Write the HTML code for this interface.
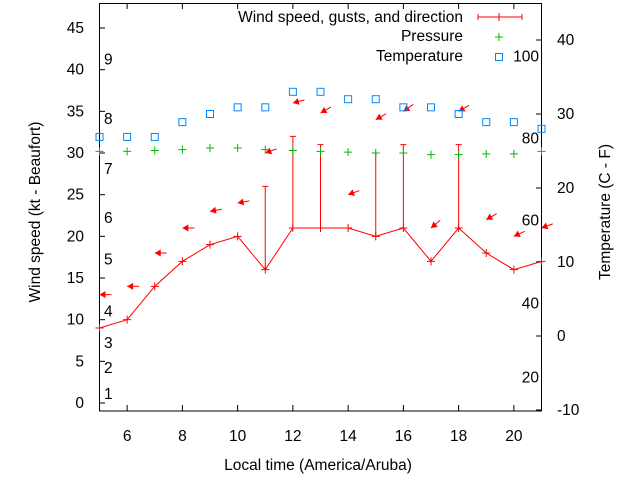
<!DOCTYPE html>
<html><head><meta charset="utf-8"><style>
body{margin:0;background:#fff}
svg{display:block;font-family:"Liberation Sans",sans-serif;font-size:15.5px}
</style></head><body>
<svg id="c" width="640" height="480">
<g id="g"></g>
</svg>
<script>
const hours=[5,6,7,8,9,10,11,12,13,14,15,16,17,18,19,20,21];
const windSpeed=[9,10,14,17,19,20,16,21,21,21,20,21,17,21,18,16,17];
const gustHours=[11,12,13,15,16,18];
const gustValues=[26,32,31,30,31,31];
const pressure=[30.2,30.2,30.3,30.4,30.6,30.6,30.4,30.3,30.2,30.1,30.0,30.0,29.8,29.8,29.9,29.9,30.2];
const temperature=[26.9,26.9,26.9,28.9,30,30.9,30.9,33,33,32,32,30.9,30.9,30,28.9,28.9,28];
const arrowLevel=[13,14,18,21,23,24,30,36,34.8,25,34,35,21,35,22,20,21];
const arrowDir=[0,0,0,0,10,10,20,15,30,20,30,35,40,30,30,25,20];
const xTicks=[6,8,10,12,14,16,18,20];
const yTicks=[0,5,10,15,20,25,30,35,40,45];
const y2Ticks=[-10,0,10,20,30,40];
const beaufortLabels=["1","2","3","4","5","6","7","8","9"];
const beaufortY=[1.1,4.2,7.2,11.0,17.2,22.2,28.1,34.1,41.2];
const fLabels=["20","80","60","40","100"];
const fValues=[-5.6,26.7,15.6,4.4,37.8];
const X=v=>99.5+(v-5)*27.625, Y=v=>403-v*8.333, Y2=v=>336-v*7.4;
const g=document.getElementById('g');const NS='http://www.w3.org/2000/svg';
function el(t,a,txt){const e=document.createElementNS(NS,t);for(const k in a)e.setAttribute(k,a[k]);if(txt!==undefined)e.textContent=txt;g.appendChild(e);return e;}
let e;
e=el('rect',{x:99.5,y:3.5,width:442,height:407.5,fill:'none',stroke:'#000'});


xTicks.forEach(t=>{el('line',{x1:X(t),x2:X(t),y1:411,y2:405,stroke:'#000'});el('line',{x1:X(t),x2:X(t),y1:3.5,y2:9,stroke:'#000'});
e=el('text',{x:X(t),y:441,'text-anchor':'middle'},t);

});
yTicks.forEach(t=>{el('line',{x1:99.5,x2:105,y1:Y(t),y2:Y(t),stroke:'#000'});
e=el('text',{x:84,y:Y(t)+5,'text-anchor':'end'},t);

});
y2Ticks.forEach(t=>{el('line',{x1:541.5,x2:536,y1:Y2(t),y2:Y2(t),stroke:'#000'});
e=el('text',{x:557,y:Y2(t)+5},t);

});
beaufortLabels.forEach((l,i)=>{e=el('text',{x:104,y:Y(beaufortY[i])+5},l);

});
fLabels.forEach((l,i)=>{e=el('text',{x:539,y:Y2(fValues[i])+5,'text-anchor':'end'},l);

});
e=el('polyline',{points:hours.map((h,i)=>X(h)+','+Y(windSpeed[i])).join(' '),fill:'none',stroke:'#f00'});


hours.forEach((h,i)=>{const x=X(h),y=Y(windSpeed[i]);el('path',{d:`M${x-4},${y}h8M${x},${y-4}v8`,stroke:'#f00'});});
gustHours.forEach((h,i)=>{const x=X(h),w=windSpeed[hours.indexOf(h)];
e=el('path',{d:`M${x},${Y(w)}V${Y(gustValues[i])}M${x-3},${Y(gustValues[i])}h6`,stroke:'#f00',fill:'none'});

});
hours.forEach((h,i)=>{const x=X(h),y=Y(arrowLevel[i]),a=arrowDir[i]*Math.PI/180,L=12;
const x2=x+L*Math.cos(a),y2=y-L*Math.sin(a);
e=el('g',{});


const l=document.createElementNS(NS,'line');l.setAttribute('x1',x);l.setAttribute('y1',y);l.setAttribute('x2',x2);l.setAttribute('y2',y2);l.setAttribute('stroke','#f00');e.appendChild(l);
const p=document.createElementNS(NS,'polygon');const ux=Math.cos(a),uy=-Math.sin(a);
p.setAttribute('points',`${x},${y} ${x+6*ux-3.5*uy},${y+6*uy+3.5*ux} ${x+6*ux+3.5*uy},${y+6*uy-3.5*ux}`);p.setAttribute('fill','#f00');e.appendChild(p);});
hours.forEach((h,i)=>{const x=X(h),y=Y(pressure[i]);
e=el('path',{d:`M${x-4},${y}h8M${x},${y-4}v8`,stroke:'#0b0'});

});
hours.forEach((h,i)=>{const x=X(h),y=Y2(temperature[i]);
e=el('rect',{x:x-3.5,y:y-3.5,width:7,height:7,fill:'none',stroke:'#08f'});

});
e=el('text',{x:463,y:22,'text-anchor':'end'},'Wind speed, gusts, and direction');


el('path',{d:'M478,17h44M478,14v6M522,14v6M499,13v8',stroke:'#f00',fill:'none'});
e=el('text',{x:463,y:41,'text-anchor':'end'},'Pressure');


el('path',{d:'M495,37h8M499,33v8',stroke:'#0b0'});
e=el('text',{x:463,y:61,'text-anchor':'end'},'Temperature');


el('rect',{x:495.5,y:53.5,width:7,height:7,fill:'none',stroke:'#08f'});
e=el('text',{x:318,y:470,'text-anchor':'middle'},'Local time (America/Aruba)');


e=el('text',{x:0,y:0,'text-anchor':'middle',transform:'translate(40,212) rotate(-90)'},'Wind speed (kt - Beaufort)');


e=el('text',{x:0,y:0,'text-anchor':'middle',transform:'translate(610,212) rotate(-90)'},'Temperature (C - F)');


</script>
</body></html>
